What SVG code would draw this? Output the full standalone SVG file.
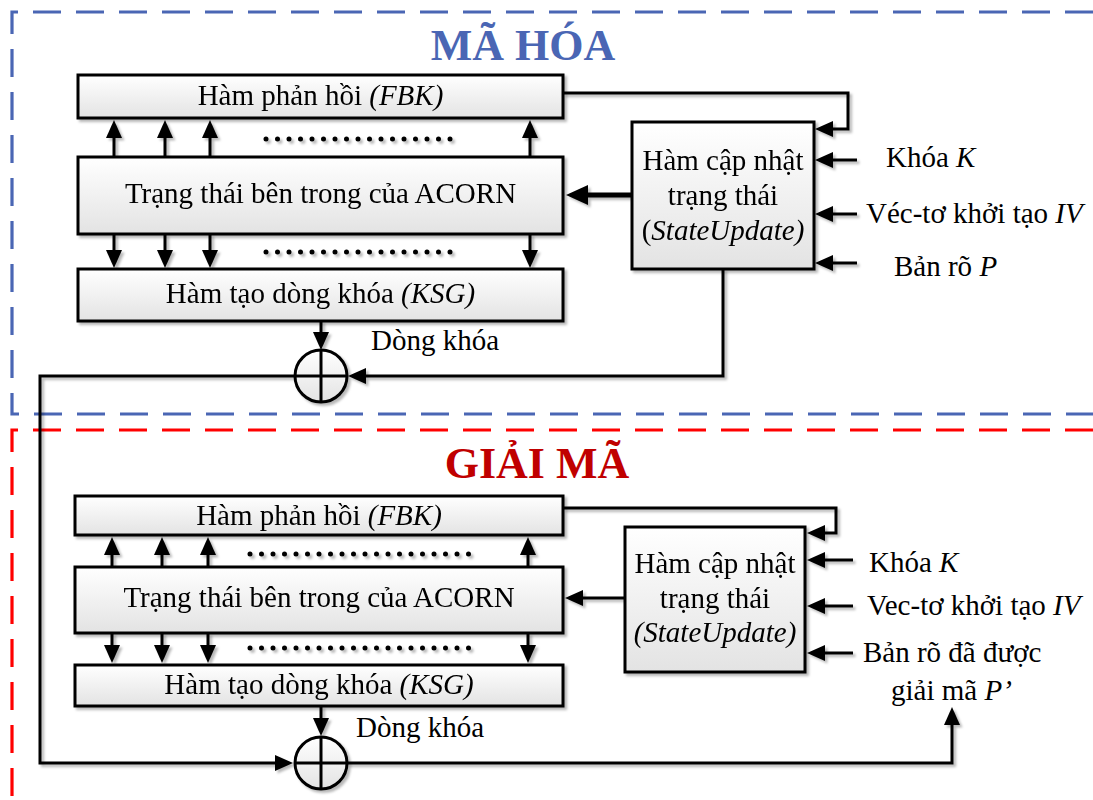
<svg xmlns="http://www.w3.org/2000/svg" width="1093" height="800" viewBox="0 0 1093 800">
<style>
.t{font-family:"Liberation Serif","Times New Roman",serif;font-size:29px;fill:#000}
.m{text-anchor:middle}
.i{font-style:italic}
.ttl{font-family:"Liberation Serif","Times New Roman",serif;font-weight:bold;font-size:44px;text-anchor:middle}
.box{fill:url(#g);stroke:#000;stroke-width:3}
.ln{fill:none;stroke:#000;stroke-width:3}
.dots{fill:none;stroke:#000;stroke-width:5;stroke-linecap:round;stroke-dasharray:0 11.5}
.fr{fill:none;stroke-width:3.2;stroke-dasharray:28 15}
</style>
<defs>
<linearGradient id="g" x1="0" y1="0" x2="0" y2="1">
<stop offset="0" stop-color="#ffffff"/>
<stop offset="1" stop-color="#e3e3e3"/>
</linearGradient>
<filter id="sh" x="-10%" y="-10%" width="130%" height="130%">
<feDropShadow dx="2.5" dy="2.5" stdDeviation="1.2" flood-color="#000" flood-opacity="0.28"/>
</filter>
<marker id="ah" viewBox="0 0 18 16" refX="4" refY="8" markerWidth="18" markerHeight="16" markerUnits="userSpaceOnUse" orient="auto">
<path d="M0,0 L18,8 L0,16 Z" fill="#000"/>
</marker>
<marker id="ahb" viewBox="0 0 22 20" refX="4" refY="10" markerWidth="22" markerHeight="20" markerUnits="userSpaceOnUse" orient="auto">
<path d="M0,0 L22,10 L0,20 Z" fill="#000"/>
</marker>
</defs>
<rect width="1093" height="800" fill="#fff"/>

<!-- frames -->
<g id="frame-enc">
<path class="fr" stroke="#4a66b4" d="M1093 12 H12 V414 H1093"/>
<text class="ttl" x="523" y="60" fill="#4a66b4">MÃ HÓA</text>
</g>
<g id="frame-dec">
<path class="fr" stroke="#ff0000" d="M1093 430 H12 V800"/>
<text class="ttl" x="537" y="478" fill="#c00000">GIẢI MÃ</text>
</g>

<!-- connectors -->
<g id="connectors" filter="url(#sh)">
<!-- encryption -->
<path class="ln" marker-end="url(#ah)" d="M114 157 V134"/>
<path class="ln" marker-end="url(#ah)" d="M165 157 V134"/>
<path class="ln" marker-end="url(#ah)" d="M210 157 V134"/>
<path class="ln" marker-end="url(#ah)" d="M530 157 V134"/>
<path class="ln" marker-end="url(#ah)" d="M114 234 V254"/>
<path class="ln" marker-end="url(#ah)" d="M165 234 V254"/>
<path class="ln" marker-end="url(#ah)" d="M210 234 V254"/>
<path class="ln" marker-end="url(#ah)" d="M530 234 V254"/>
<path class="dots" d="M266 139 H461.5"/>
<path class="dots" d="M266 252 H461.5"/>
<path class="ln" marker-end="url(#ah)" d="M563 93 H848 V129 H829"/>
<path class="ln" marker-end="url(#ah)" d="M857 160 H829"/>
<path class="ln" marker-end="url(#ah)" d="M857 214 H829"/>
<path class="ln" marker-end="url(#ah)" d="M857 263 H829"/>
<path fill="none" stroke="#000" stroke-width="5" marker-end="url(#ahb)" d="M632 195 H584"/>
<path class="ln" marker-end="url(#ah)" d="M321 321 V336"/>
<path class="ln" marker-end="url(#ah)" d="M723 269 V376 H362"/>
<path class="ln" marker-end="url(#ah)" d="M295 376 H40 V763 H279"/>
<!-- decryption -->
<path class="ln" marker-end="url(#ah)" d="M112 567 V551"/>
<path class="ln" marker-end="url(#ah)" d="M162 567 V551"/>
<path class="ln" marker-end="url(#ah)" d="M208 567 V551"/>
<path class="ln" marker-end="url(#ah)" d="M528 567 V551"/>
<path class="ln" marker-end="url(#ah)" d="M112 633 V649"/>
<path class="ln" marker-end="url(#ah)" d="M162 633 V649"/>
<path class="ln" marker-end="url(#ah)" d="M208 633 V649"/>
<path class="ln" marker-end="url(#ah)" d="M528 633 V649"/>
<path class="dots" d="M250 554 H480"/>
<path class="dots" d="M250 648 H480"/>
<path class="ln" marker-end="url(#ah)" d="M563 508 H836 V533 H821"/>
<path class="ln" marker-end="url(#ah)" d="M853 560 H821"/>
<path class="ln" marker-end="url(#ah)" d="M853 606 H821"/>
<path class="ln" marker-end="url(#ah)" d="M853 653 H821"/>
<path class="ln" marker-end="url(#ah)" d="M625 598 H579"/>
<path class="ln" marker-end="url(#ah)" d="M321 706 V722"/>
<path class="ln" marker-end="url(#ah)" d="M347 763 H952 V721"/>
</g>

<!-- encryption nodes -->
<g id="fbk-enc" filter="url(#sh)">
<rect class="box" x="78" y="75" width="485" height="43"/>
<text class="t m" x="320.5" y="105">Hàm phản hồi <tspan class="i">(FBK)</tspan></text>
</g>
<g id="acorn-enc" filter="url(#sh)">
<rect class="box" x="78" y="157" width="485" height="77"/>
<text class="t m" x="320.5" y="203">Trạng thái bên trong của ACORN</text>
</g>
<g id="ksg-enc" filter="url(#sh)">
<rect class="box" x="78" y="269" width="485" height="52"/>
<text class="t m" x="320.5" y="303">Hàm tạo dòng khóa <tspan class="i">(KSG)</tspan></text>
</g>
<g id="su-enc" filter="url(#sh)">
<rect class="box" x="632" y="122" width="182" height="147"/>
<text class="t m" x="723" y="170">Hàm cập nhật</text>
<text class="t m" x="723" y="205">trạng thái</text>
<text class="t m" x="723" y="240">(<tspan class="i">StateUpdate)</tspan></text>
</g>
<g id="xor-enc" filter="url(#sh)">
<circle cx="321" cy="376" r="26" fill="url(#g)" stroke="#000" stroke-width="3"/>
<path class="ln" d="M321 350 V402 M295 376 H347"/>
</g>
<g id="labels-enc">
<text class="t" x="886" y="167">Khóa <tspan class="i">K</tspan></text>
<text class="t" x="866" y="223">Véc-tơ khởi tạo <tspan class="i">IV</tspan></text>
<text class="t" x="894" y="276">Bản rõ <tspan class="i">P</tspan></text>
<text class="t" x="371" y="350">Dòng khóa</text>
</g>

<!-- decryption nodes -->
<g id="fbk-dec" filter="url(#sh)">
<rect class="box" x="75" y="496" width="488" height="39"/>
<text class="t m" x="319" y="525">Hàm phản hồi <tspan class="i">(FBK)</tspan></text>
</g>
<g id="acorn-dec" filter="url(#sh)">
<rect class="box" x="75" y="567" width="488" height="66"/>
<text class="t m" x="319" y="607">Trạng thái bên trong của ACORN</text>
</g>
<g id="ksg-dec" filter="url(#sh)">
<rect class="box" x="75" y="665" width="488" height="41"/>
<text class="t m" x="319" y="694">Hàm tạo dòng khóa <tspan class="i">(KSG)</tspan></text>
</g>
<g id="su-dec" filter="url(#sh)">
<rect class="box" x="625" y="527" width="180" height="145"/>
<text class="t m" x="715" y="573">Hàm cập nhật</text>
<text class="t m" x="715" y="608">trạng thái</text>
<text class="t m i" x="715" y="642">(StateUpdate)</text>
</g>
<g id="xor-dec" filter="url(#sh)">
<circle cx="321" cy="763" r="26" fill="url(#g)" stroke="#000" stroke-width="3"/>
<path class="ln" d="M321 737 V789 M295 763 H347"/>
</g>
<g id="labels-dec">
<text class="t" x="869" y="572">Khóa <tspan class="i">K</tspan></text>
<text class="t" x="867" y="615">Vec-tơ khởi tạo <tspan class="i">IV</tspan></text>
<text class="t" x="863" y="662">Bản rõ đã được</text>
<text class="t" x="891" y="700">giải mã <tspan class="i">P’</tspan></text>
<text class="t" x="356" y="737">Dòng khóa</text>
</g>
</svg>
